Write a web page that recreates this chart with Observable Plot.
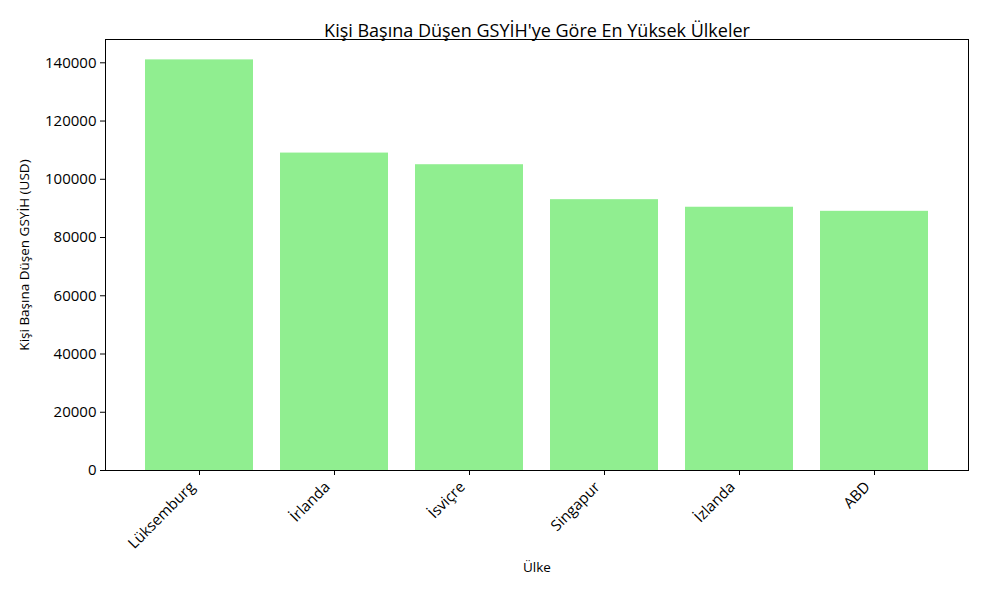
<!DOCTYPE html>
<html>
<head>
    <meta charset="UTF-8">
    <title>Kişi Başına Düşen GSYİH</title>
    <style>
        body { margin: 0; background: #fff; }
        svg { font-family: "Open Sans", Roboto, sans-serif; }
    </style>
</head>
<body>
    <div id="chart"></div>
    <script src="https://cdn.jsdelivr.net/npm/d3@7"></script>
    <script src="https://cdn.jsdelivr.net/npm/@observablehq/plot@0.6"></script>
    <script>
    const ulkeler = ["Lüksemburg", "İrlanda", "İsviçre", "Singapur", "İzlanda", "ABD"];
    const gsyih = [141000, 109000, 105000, 93000, 90400, 89000];
    const yTicks = [0, 20000, 40000, 60000, 80000, 100000, 120000, 140000];

    const data = ulkeler.map((u, i) => ({ ulke: u, deger: gsyih[i] }));

    const plot = Plot.plot({
        width: 983,
        height: 590,
        marginLeft: 105,
        marginRight: 15,
        marginTop: 39,
        marginBottom: 120,
        style: { fontSize: "13px", color: "#000" },
        x: { domain: ulkeler, paddingInner: 0.2, paddingOuter: 0.29, label: null },
        y: { domain: [0, 148000], label: null },
        marks: [
            Plot.barY(data, { x: "ulke", y: "deger", fill: "#90ee90" }),
            Plot.axisY({ ticks: yTicks, tickFormat: d => String(d), tickSize: 5, tickPadding: 4, fontSize: 15, label: null }),
            Plot.axisX({ tickRotate: -45, tickSize: 5, tickPadding: 4, fontSize: 15, label: null }),
            Plot.frame({ stroke: "#000", strokeWidth: 1 }),
            Plot.text(["Kişi Başına Düşen GSYİH'ye Göre En Yüksek Ülkeler"], { frameAnchor: "top", dy: -15, fontSize: 18 }),
            Plot.text(["Ülke"], { frameAnchor: "bottom", dy: 101, fontSize: 13.5 }),
            Plot.text(["Kişi Başına Düşen GSYİH (USD)"], { frameAnchor: "left", textAnchor: "middle", dx: -81, rotate: -90, fontSize: 13.5 })
        ]
    });

    // rotated tick labels sit a bit lower-left in the reference
    plot.querySelectorAll("g[aria-label='x-axis tick label'] text").forEach(t => {
        const tr = t.getAttribute("transform") || "";
        t.setAttribute("transform", "translate(-7,5) " + tr);
    });

    document.querySelector("#chart").append(plot);
    </script>
</body>
</html>
